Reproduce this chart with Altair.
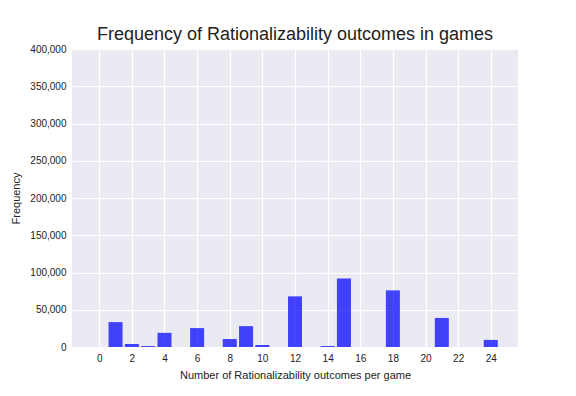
import altair as alt
import pandas as pd

outcomes = [1, 2, 3, 4, 6, 8, 9, 10, 12, 14, 15, 18, 21, 24]
frequency = [33400, 4000, 1300, 19000, 25400, 10700, 28000, 2700, 68000, 1300, 92000, 76000, 39000, 9500]

df = pd.DataFrame({"outcomes": outcomes, "frequency": frequency})

font = "Liberation Sans"

chart = alt.Chart(df).mark_rect(color="blue", opacity=0.72).transform_calculate(
    x0="datum.outcomes - 0.43", x1="datum.outcomes + 0.43"
).encode(
    x=alt.X("x0:Q", scale=alt.Scale(domain=[-1.67, 25.67], nice=False, zero=False),
            axis=alt.Axis(values=list(range(0, 25, 2)), title="Number of Rationalizability outcomes per game",
                          format="d")),
    x2="x1:Q",
    y=alt.Y("frequency:Q", scale=alt.Scale(domain=[0, 400000], nice=False),
            axis=alt.Axis(values=list(range(0, 400001, 50000)), format=",.0f", title="Frequency")),
    y2=alt.value(298),
).properties(
    width=446, height=298,
    title=alt.TitleParams("Frequency of Rationalizability outcomes in games", fontSize=18,
                          font=font, fontWeight="normal", color="#222222", offset=0),
    autosize="none",
    padding={"left": 64, "top": 41, "right": 50, "bottom": 41},
).configure_view(fill="#EAEAF2", stroke=None).configure_axis(
    grid=True, gridColor="white", gridWidth=1.2, domain=False, ticks=False,
    labelFont=font, titleFont=font, labelFontSize=10, titleFontSize=11,
    labelColor="#222222", titleColor="#222222", titleFontWeight="normal", labelPadding=6,
).configure_axisX(titlePadding=6).configure_axisY(titlePadding=8)

chart.save("out.html", embed_options={"renderer": "svg", "actions": False})
